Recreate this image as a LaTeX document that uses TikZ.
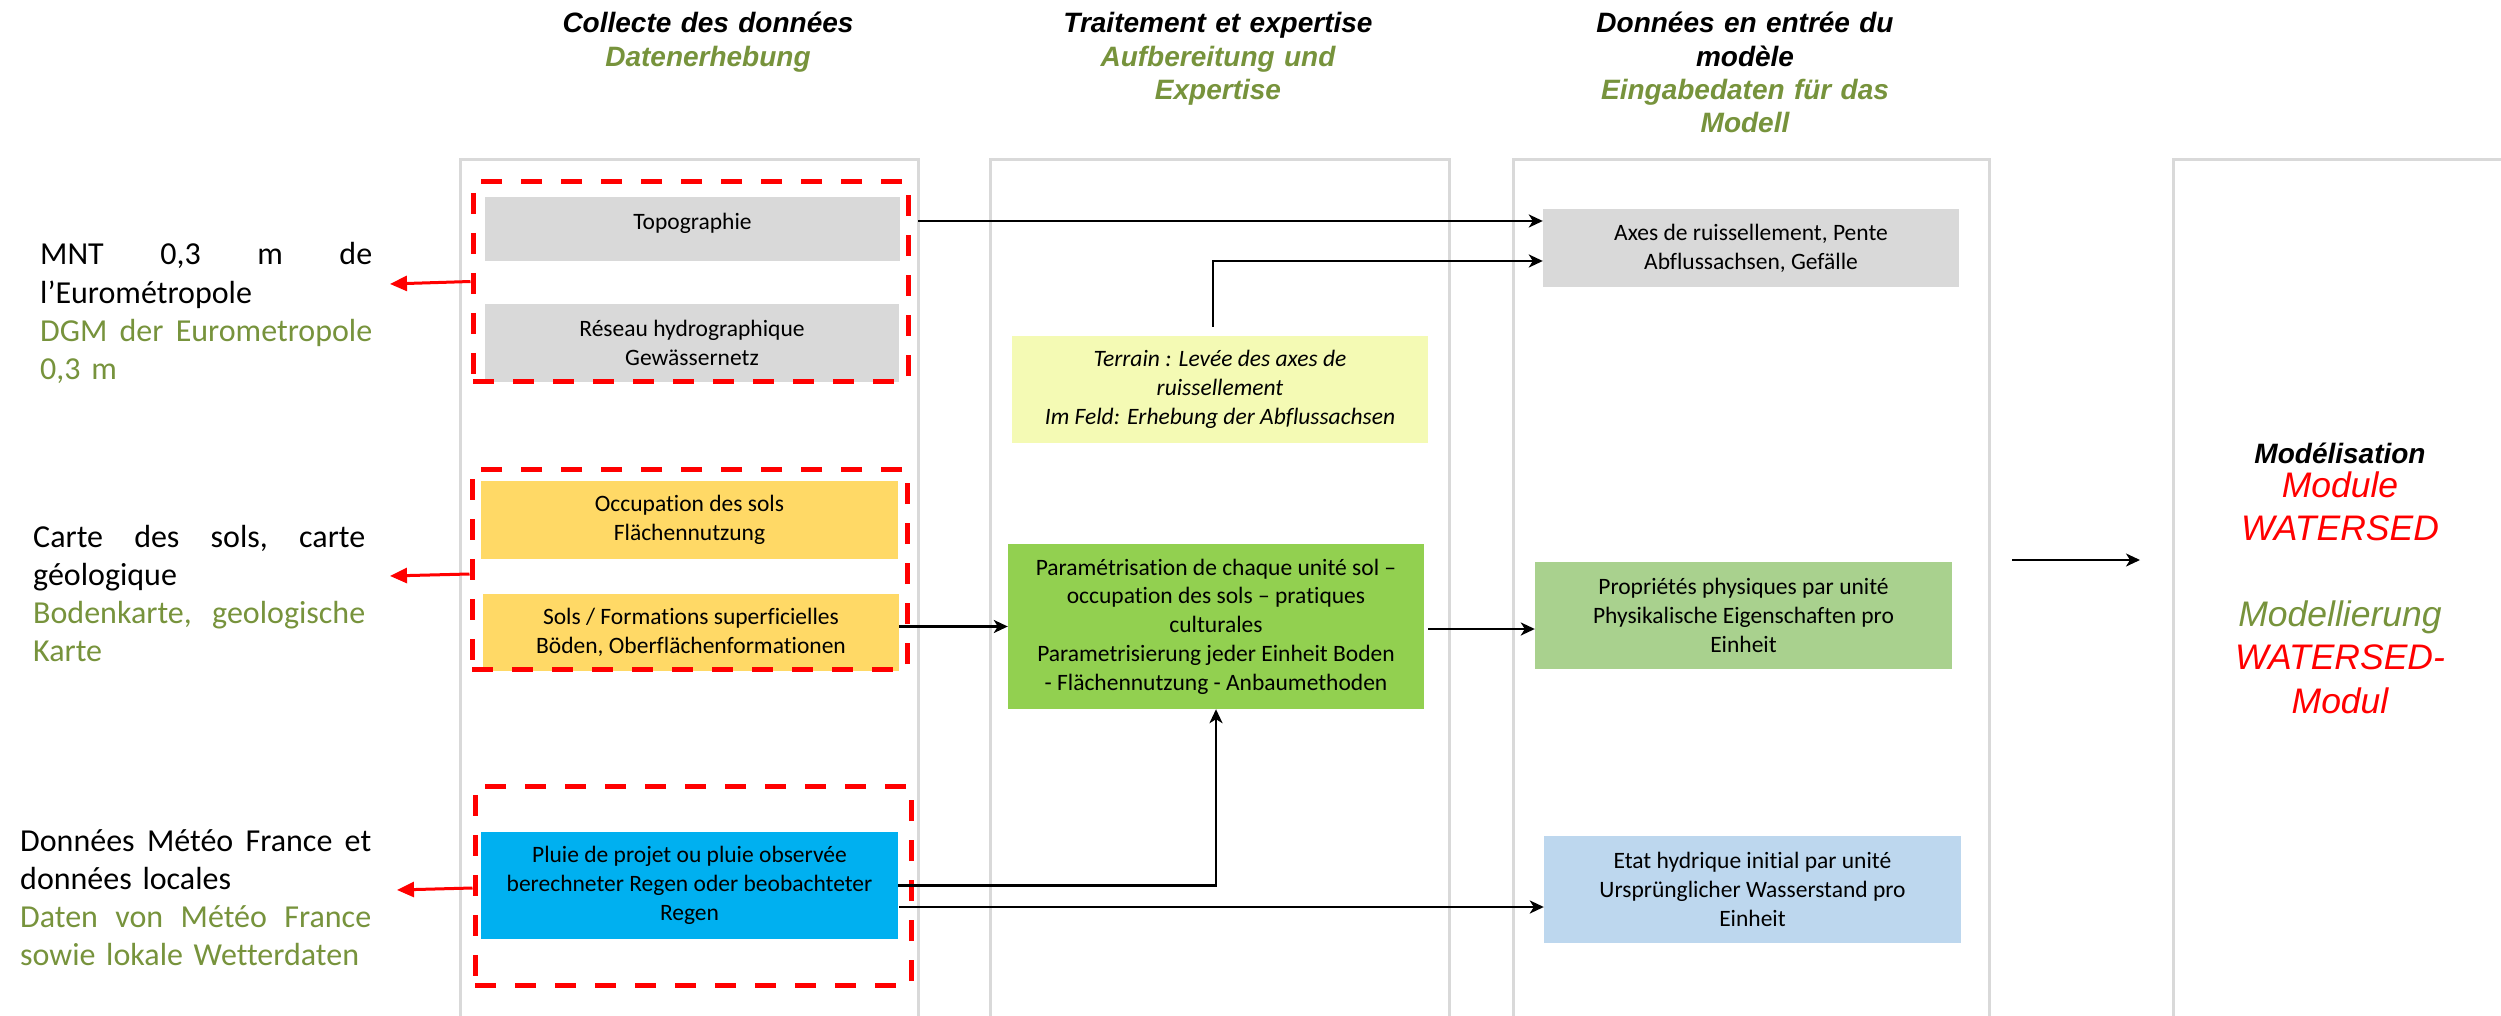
\documentclass[tikz,border=0pt]{standalone}
\usepackage{fontspec}
\setmainfont{Carlito}[Ligatures=NoCommon]
\newfontfamily\arialf{Liberation Sans}
\usetikzlibrary{arrows.meta,calc}
\definecolor{olivegreen}{HTML}{77933C}
\definecolor{panelgray}{HTML}{D9D9D9}
\definecolor{boxgray}{HTML}{D9D9D9}
\definecolor{boxgold}{HTML}{FFD966}
\definecolor{boxpale}{HTML}{F4FAB4}
\definecolor{boxgreen}{HTML}{92D050}
\definecolor{boxsage}{HTML}{A9D18E}
\definecolor{boxcyan}{HTML}{00B0F0}
\definecolor{boxblue}{HTML}{BDD7EE}
\newcommand{\myboxfont}{\fontsize{23.5}{28.7}\selectfont}
\begin{document}
\begin{tikzpicture}[x=1pt,y=-1pt,
  panel/.style={draw=panelgray, line width=3pt},
  redbox/.style={draw=red, line width=5pt, dash pattern=on 21pt off 19pt, inner sep=0pt},
  databox/.style={inner sep=0pt, align=center, font=\myboxfont},
  lefttext/.style={inner sep=0pt, align=left, font=\fontsize{32}{38.3}\selectfont},
  head/.style={inner sep=0pt, text width=440pt, align=center, font=\arialf\bfseries\itshape\fontsize{28}{33.3}\selectfont},
  arr/.style={-{Stealth[length=14pt,width=13pt,inset=4pt]}, line width=2.5pt},
  redarr/.style={draw=red, -{Triangle[length=17pt,width=15pt]}, line width=3pt}]
\useasboundingbox (0,0) rectangle (2501,1016);
\fill[white] (0,0) rectangle (2501,1016);

% panels
\draw[panel] (460,1016) -- (460,160) -- (918,160) -- (918,1016);
\draw[panel] (990,1016) -- (990,160) -- (1449,160) -- (1449,1016);
\draw[panel] (1513,1016) -- (1513,160) -- (1989,160) -- (1989,1016);
\draw[panel] (2173,1016) -- (2173,160) -- (2501,160);

% headers
\node[head, anchor=base] (h1) at (708,33) {Collecte des données\\ \color{olivegreen}Datenerhebung};
\node[head, anchor=base] (h2) at (1218,33) {Traitement et expertise\\ \color{olivegreen}Aufbereitung und\\ Expertise};
\node[head, anchor=base] (h3) at (1745,33) {Données en entrée du\\ modèle\\ \color{olivegreen}Eingabedaten für das\\ Modell};

% left texts
\node[lefttext, text width=332pt, anchor=base west] (mnt) at (40,265)
  {\makebox[332pt][l]{MNT\hfill 0,3\hfill m\hfill de}\\ l’Eurométropole\\ \color{olivegreen}\makebox[332pt][l]{DGM\hfill der\hfill Eurometropole}\\ 0,3 m};
\node[lefttext, text width=332pt, anchor=base west] (carte) at (33,547)
  {\makebox[332pt][l]{Carte\hfill des\hfill sols,\hfill carte}\\ géologique\\ \color{olivegreen}\makebox[332pt][l]{Bodenkarte,\hfill geologische}\\ Karte};
\node[lefttext, text width=351pt, anchor=base west] (meteo) at (20,851)
  {\makebox[351pt][l]{Données\hfill Météo\hfill France\hfill et}\\ données locales\\ \color{olivegreen}\makebox[351pt][l]{Daten\hfill von\hfill Météo\hfill France}\\ sowie lokale Wetterdaten};

% column 1 boxes
\node[databox, fill=boxgray, minimum width=415pt, minimum height=64pt] (topo) at (692.5,229) {\raisebox{15pt}{Topographie}};
\node[databox, fill=boxgray, minimum width=414pt, minimum height=78pt] (reseau) at (692,343) {Réseau hydrographique\\ Gewässernetz};
\node[databox, fill=boxgold, minimum width=417pt, minimum height=78pt] (occup) at (689.5,520) {Occupation des sols\\ Flächennutzung};
\node[databox, fill=boxgold, minimum width=416pt, minimum height=77pt] (sols) at (691,632.5) {Sols / Formations superficielles\\ Böden, Oberflächenformationen};
\node[databox, fill=boxcyan, minimum width=417pt, minimum height=107pt] (pluie) at (689.5,885.5) {Pluie de projet ou pluie observée\\ berechneter Regen oder beobachteter\\ Regen};

% column 2 boxes
\node[databox, fill=boxpale, minimum width=416pt, minimum height=107pt, font=\myboxfont\itshape] (terrain) at (1220,389.5) {Terrain : Levée des axes de\\ ruissellement\\ Im Feld: Erhebung der Abflussachsen};
\node[databox, fill=boxgreen, minimum width=416pt, minimum height=165pt] (param) at (1216,626.5) {Paramétrisation de chaque unité sol –\\ occupation des sols – pratiques\\ culturales\\ Parametrisierung jeder Einheit Boden\\ - Flächennutzung - Anbaumethoden};

% column 3 boxes
\node[databox, fill=boxgray, minimum width=416pt, minimum height=78pt] (axes) at (1751,248) {Axes de ruissellement, Pente\\ Abflussachsen, Gefälle};
\node[databox, fill=boxsage, minimum width=417pt, minimum height=107pt] (prop) at (1743.5,615.5) {Propriétés physiques par unité\\ Physikalische Eigenschaften pro\\ Einheit};
\node[databox, fill=boxblue, minimum width=417pt, minimum height=107pt] (etat) at (1752.5,889.5) {Etat hydrique initial par unité\\ Ursprünglicher Wasserstand pro\\ Einheit};

% red dashed groups
\node[redbox, minimum width=435pt, minimum height=199pt] (g1) at (690.5,281.5) {};
\node[redbox, minimum width=435pt, minimum height=200pt] (g2) at (689.5,569) {};
\node[redbox, minimum width=436pt, minimum height=199pt] (g3) at (693,885.5) {};

% modelling column
\node[inner sep=0pt, anchor=base, font=\arialf\bfseries\itshape\fontsize{28}{33}\selectfont] (mtitle) at (2340,463) {Modélisation};
\node[inner sep=0pt, anchor=base, text width=320pt, align=center, font=\arialf\itshape\fontsize{35.5}{43.2}\selectfont] (mtext) at (2340,497)
  {\color{red}Module\\ WATERSED\\[43.2pt] \color{olivegreen}Modellierung\\ \color{red}WATERSED-\\ Modul};

% black connectors
\coordinate (t1) at ([shift={(18,-8)}]topo.east);
\draw[arr] (t1) -- (t1 -| axes.west);
\coordinate (t2) at ([shift={(-7,-9)}]terrain.north);
\coordinate (a2) at ([shift={(0,13)}]axes.west);
\draw[arr] (t2) |- (a2);
\draw[arr] (sols.east |- param.west) -- (param.west);
\coordinate (pe) at ([shift={(4,2.5)}]param.east);
\draw[arr] (pe) -- (pe -| prop.west);
\draw[arr] (pluie.east) -| (param.south);
\coordinate (p2) at ([shift={(1,21.5)}]pluie.east);
\draw[arr] (p2) -- (p2 -| etat.west);
\coordinate (m1) at (2012,560);
\coordinate (m2) at (2140,560);
\draw[arr, line width=2pt] (m1) -- (m2);

% red connectors
\coordinate (r1) at (390,284);
\draw[redarr] (g1.west) -- (r1);
\coordinate (r2) at (390,576);
\draw[redarr] (g2.west |- 0,574) -- (r2);
\coordinate (r3) at (397,890);
\draw[redarr] (g3.west |- 0,888) -- (r3);
\end{tikzpicture}
\end{document}
